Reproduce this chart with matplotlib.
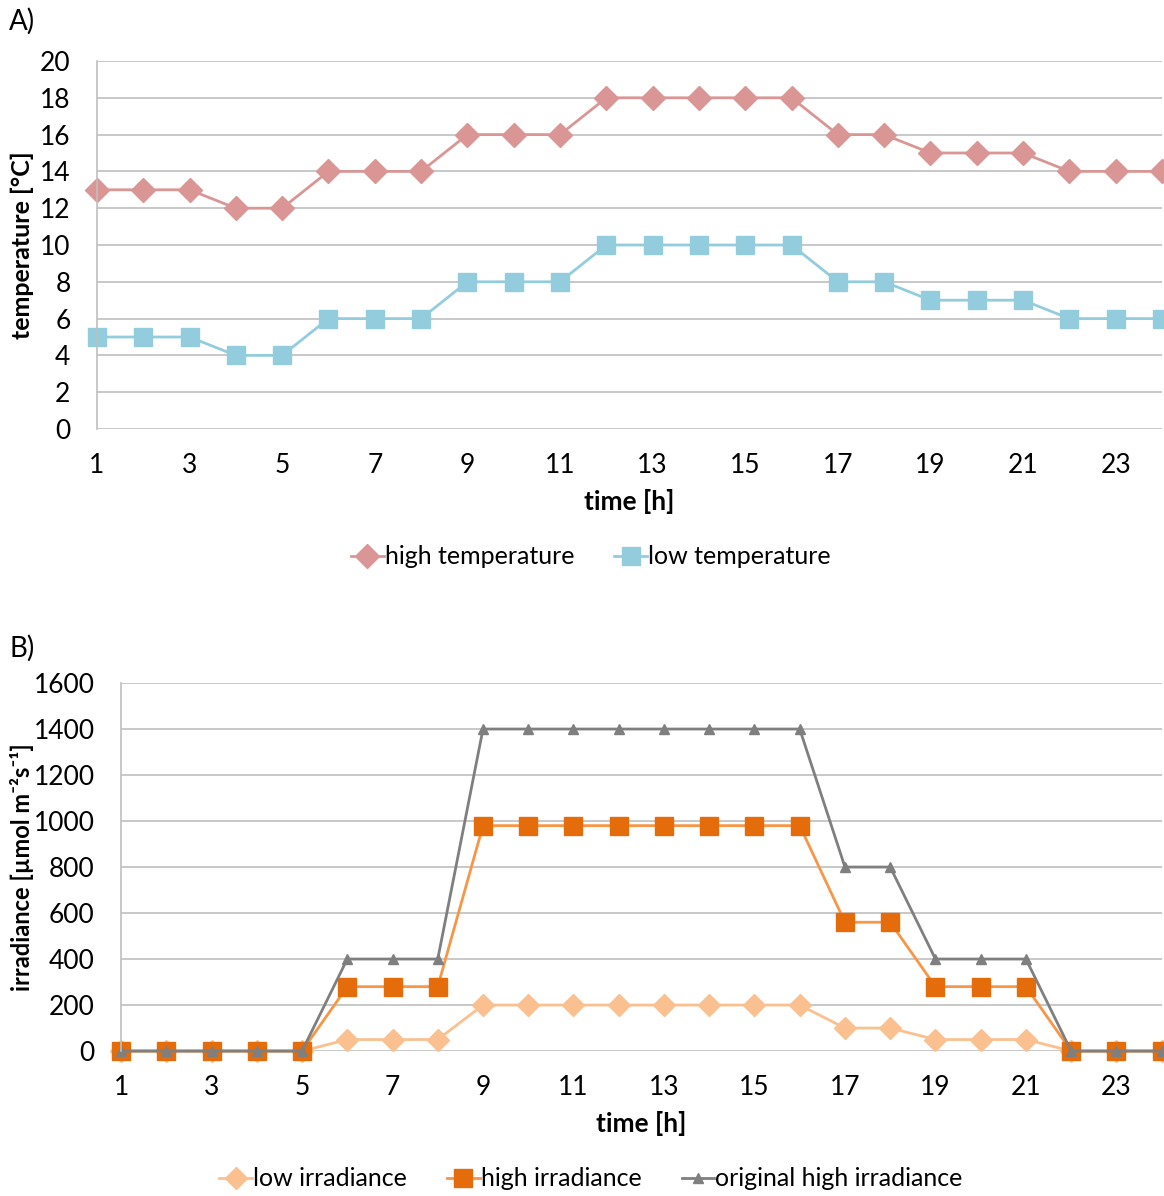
import numpy as np
import matplotlib
matplotlib.use("Agg")
import matplotlib.pyplot as plt

plt.rcParams['font.family'] = ['Lato', 'DejaVu Sans']

# hours of the day
hours = list(range(1, 25))
hour_ticks = list(range(1, 24, 2))

# panel A: temperature [°C]
high_temp = [13, 13, 13, 12, 12, 14, 14, 14, 16, 16, 16, 18,
             18, 18, 18, 18, 16, 16, 15, 15, 15, 14, 14, 14]
low_temp = [5, 5, 5, 4, 4, 6, 6, 6, 8, 8, 8, 10,
            10, 10, 10, 10, 8, 8, 7, 7, 7, 6, 6, 6]

# panel B: irradiance [µmol m-2 s-1]
low_irr = [0, 0, 0, 0, 0, 50, 50, 50, 200, 200, 200, 200,
           200, 200, 200, 200, 100, 100, 50, 50, 50, 0, 0, 0]
high_irr = [0, 0, 0, 0, 0, 280, 280, 280, 980, 980, 980, 980,
            980, 980, 980, 980, 560, 560, 280, 280, 280, 0, 0, 0]
orig_irr = [0, 0, 0, 0, 0, 400, 400, 400, 1400, 1400, 1400, 1400,
            1400, 1400, 1400, 1400, 800, 800, 400, 400, 400, 0, 0, 0]

GRID = '#BFBFBF'
FS = 19


def style_axes(ax, yticks):
    ax.set_xlim(1, 24)
    ax.set_xticks(hour_ticks)
    ax.set_yticks(yticks)
    ax.set_ylim(yticks[0], yticks[-1])
    ax.grid(axis='y', color=GRID, linewidth=1.2)
    ax.set_axisbelow(True)
    for s in ['top', 'right', 'bottom']:
        ax.spines[s].set_visible(False)
    ax.spines['left'].set_color(GRID)
    ax.spines['left'].set_linewidth(1.2)
    ax.tick_params(length=0, labelsize=FS)
    ax.tick_params(axis='x', pad=17)
    ax.tick_params(axis='y', pad=19)
    ax.set_xlabel('time [h]', fontsize=FS, fontweight='bold', labelpad=8)


def add_legend(ax, y_px, ncol):
    ax.legend(loc='center', bbox_to_anchor=(591 / 1164, 1 - y_px / 1196),
              bbox_transform=fig.transFigure, ncol=ncol, frameon=False,
              fontsize=18, handlelength=1.3, handletextpad=0.05,
              columnspacing=1.6)


fig = plt.figure(figsize=(11.64, 11.96), dpi=100)

# ---- A) temperature
ax1 = fig.add_axes([0.0833, 0.6413, 0.915, 0.3077])
ax1.plot(hours, high_temp, color='#D99694', marker='D', markersize=12,
         linewidth=2, label='high temperature', clip_on=False)
ax1.plot(hours, low_temp, color='#93CDDD', marker='s', markersize=13,
         linewidth=2, label='low temperature', clip_on=False)
style_axes(ax1, list(range(0, 21, 2)))
ax1.set_ylabel('temperature [°C]', fontsize=18, fontweight='bold')
ax1.yaxis.set_label_coords(-0.059, 0.5)
add_legend(ax1, 557, 2)
fig.text(0.008, 0.982, 'A)', fontsize=20, va='center')

# ---- B) irradiance
ax2 = fig.add_axes([0.104, 0.1212, 0.894, 0.3077])
ax2.plot(hours, low_irr, color='#FAC090', marker='D', markersize=11,
         linewidth=2, label='low irradiance', clip_on=False)
ax2.plot(hours, high_irr, color='#F79646', marker='s', markersize=13,
         markerfacecolor='#E46C0A', markeredgecolor='#E46C0A',
         linewidth=2, label='high irradiance', clip_on=False)
ax2.plot(hours, orig_irr, color='#7F7F7F', marker='^', markersize=7,
         linewidth=2, label='original high irradiance', clip_on=False)
style_axes(ax2, list(range(0, 1601, 200)))
ax2.set_ylabel('irradiance [µmol m⁻²s⁻¹]', fontsize=17, fontweight='bold')
ax2.yaxis.set_label_coords(-0.0836, 0.5)
add_legend(ax2, 1179, 3)
fig.text(0.008, 0.458, 'B)', fontsize=20, va='center')

fig.savefig('out.png', dpi=100)
